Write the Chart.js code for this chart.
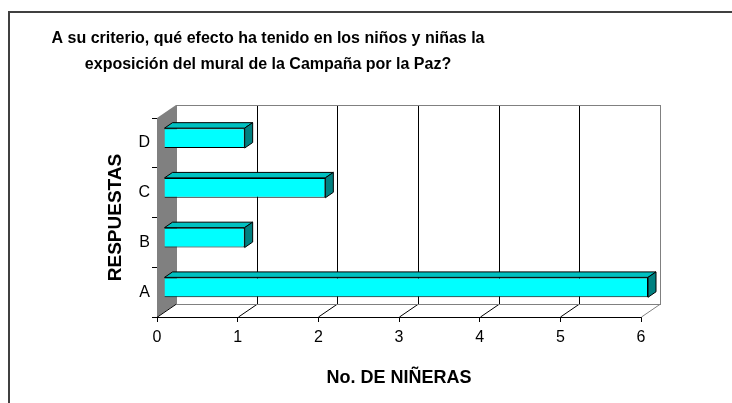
<!DOCTYPE html>
<html>
<head>
<meta charset="utf-8">
<script src="https://cdn.jsdelivr.net/npm/chart.js@4.4.1/dist/chart.umd.min.js"></script>
<style>
  html, body { margin: 0; padding: 0; background: #fff; }
  #wrap { position: relative; width: 732px; height: 403px; overflow: hidden; }
  /* the original chart frame runs off the right and bottom of the crop */
  #frame { position: absolute; left: 8px; top: 11px; width: 900px; height: 600px;
           border: 2px solid #404040; pointer-events: none; }
</style>
</head>
<body>
<div id="wrap">
  <canvas id="chart" width="732" height="403"></canvas>
  <div id="frame"></div>
</div>
<script>
// Survey answers: how many nannies picked each option
const categories = ['A', 'B', 'C', 'D'];
const counts = [6, 1, 2, 1];
const maxCount = 6;

const titleLines = [
  'A su criterio, qué efecto ha tenido en los niños y niñas la',
  'exposición del mural de la Campaña por la Paz?'
];
const yTitle = 'RESPUESTAS';
const xTitle = 'No. DE NIÑERAS';

// fake 3D: back wall is pushed up and right by this much
const depthX = 19;
const depthY = 13;
const barFront = 7 / 19;   // bars start this far into the depth
const barBack = 15 / 19;   // ... and end here
const titleCenterX = 268;  // title sits left of centre in the original

const fontFamily = "'Liberation Sans', Arial, sans-serif";

const wall3d = {
  id: 'wall3d',
  afterLayout(chart) {
    // move the title block so its centre matches the original
    const t = chart.titleBlock;
    if (t) {
      t.left = 0;
      t.right = titleCenterX * 2;
      t.width = titleCenterX * 2;
    }
  },
  beforeDatasetsDraw(chart) {
    const { ctx, chartArea: a, scales: { x } } = chart;
    ctx.save();

    // back wall
    ctx.fillStyle = '#ffffff';
    ctx.fillRect(a.left + depthX, a.top - depthY, a.width, a.height);

    // side wall on the left
    ctx.fillStyle = '#808080';
    ctx.beginPath();
    ctx.moveTo(a.left, a.top);
    ctx.lineTo(a.left + depthX, a.top - depthY);
    ctx.lineTo(a.left + depthX, a.bottom - depthY);
    ctx.lineTo(a.left, a.bottom);
    ctx.closePath();
    ctx.fill();

    // gridlines on the back wall + floor diagonals
    ctx.lineWidth = 1;
    x.ticks.forEach(t => {
      const px = Math.round(x.getPixelForValue(t.value)) + 0.5;
      if (t.value > 0 && t.value < maxCount) {
        ctx.strokeStyle = '#000000';
        ctx.beginPath();
        ctx.moveTo(px + depthX, a.top - depthY);
        ctx.lineTo(px + depthX, a.bottom - depthY);
        ctx.stroke();
      }
      ctx.strokeStyle = t.value === maxCount ? '#808080' : '#000000';
      ctx.beginPath();
      ctx.moveTo(px, a.bottom);
      ctx.lineTo(px + depthX, a.bottom - depthY);
      ctx.stroke();
    });

    // back wall outline
    ctx.strokeStyle = '#808080';
    ctx.strokeRect(a.left + depthX + 0.5, a.top - depthY + 0.5, a.width, a.height);

    // top and end faces of the bars
    const fx = barFront * depthX, fy = barFront * depthY;
    const bx = barBack * depthX, by = barBack * depthY;
    chart.getDatasetMeta(0).data.forEach(bar => {
      const p = bar.getProps(['x', 'y', 'base', 'height'], true);
      const top = p.y - p.height / 2;
      const bottom = p.y + p.height / 2;
      ctx.strokeStyle = '#000000';
      ctx.lineJoin = 'round';

      ctx.fillStyle = '#00c0c0';
      ctx.beginPath();
      ctx.moveTo(p.base + fx, top - fy);
      ctx.lineTo(p.x + fx, top - fy);
      ctx.lineTo(p.x + bx, top - by);
      ctx.lineTo(p.base + bx, top - by);
      ctx.closePath();
      ctx.fill();
      ctx.stroke();

      ctx.fillStyle = '#008080';
      ctx.beginPath();
      ctx.moveTo(p.x + fx, top - fy);
      ctx.lineTo(p.x + bx, top - by);
      ctx.lineTo(p.x + bx, bottom - by);
      ctx.lineTo(p.x + fx, bottom - fy);
      ctx.closePath();
      ctx.fill();
      ctx.stroke();
    });
    ctx.restore();

    // front faces are drawn by Chart.js, shifted into the depth
    ctx.save();
    ctx.translate(fx, -fy);
  },
  afterDatasetsDraw(chart) {
    chart.ctx.restore();
  }
};

new Chart(document.getElementById('chart'), {
  type: 'bar',
  data: {
    labels: categories,
    datasets: [{
      data: counts,
      backgroundColor: '#00ffff',
      borderColor: '#000000',
      borderWidth: 1,
      categoryPercentage: 0.8,
      barPercentage: 0.5,
      clip: false
    }]
  },
  options: {
    indexAxis: 'y',
    responsive: false,
    animation: false,
    layout: { padding: { left: 0, right: 91, top: 0, bottom: 0 } },
    plugins: {
      legend: { display: false },
      tooltip: { enabled: false },
      title: {
        display: true,
        text: titleLines,
        color: '#000000',
        font: { family: fontFamily, size: 16, weight: 'bold', lineHeight: '26px' },
        padding: { top: 26, bottom: 40 }
      }
    },
    scales: {
      x: {
        min: 0,
        max: maxCount,
        ticks: { stepSize: 1, color: '#000000', padding: 6,
                 font: { family: fontFamily, size: 16 } },
        grid: { drawOnChartArea: false, drawTicks: true, tickLength: 5, color: '#000000' },
        border: { display: true, color: '#000000' },
        title: { display: true, text: xTitle, color: '#000000',
                 font: { family: fontFamily, size: 18, weight: 'bold' },
                 padding: { top: 0, bottom: 14 } },
        afterFit: s => { s.height = 86; }
      },
      y: {
        reverse: true,
        ticks: { color: '#000000', padding: 2,
                 font: { family: fontFamily, size: 16 } },
        grid: { drawOnChartArea: false, drawTicks: true, tickLength: 5, color: '#000000' },
        border: { display: true, color: '#000000' },
        title: { display: true, text: yTitle, color: '#000000',
                 font: { family: fontFamily, size: 19, weight: 'bold' },
                 padding: { top: 104, bottom: 0 } },
        afterFit: s => { s.width = 157; }
      }
    }
  },
  plugins: [wall3d]
});
</script>
</body>
</html>
